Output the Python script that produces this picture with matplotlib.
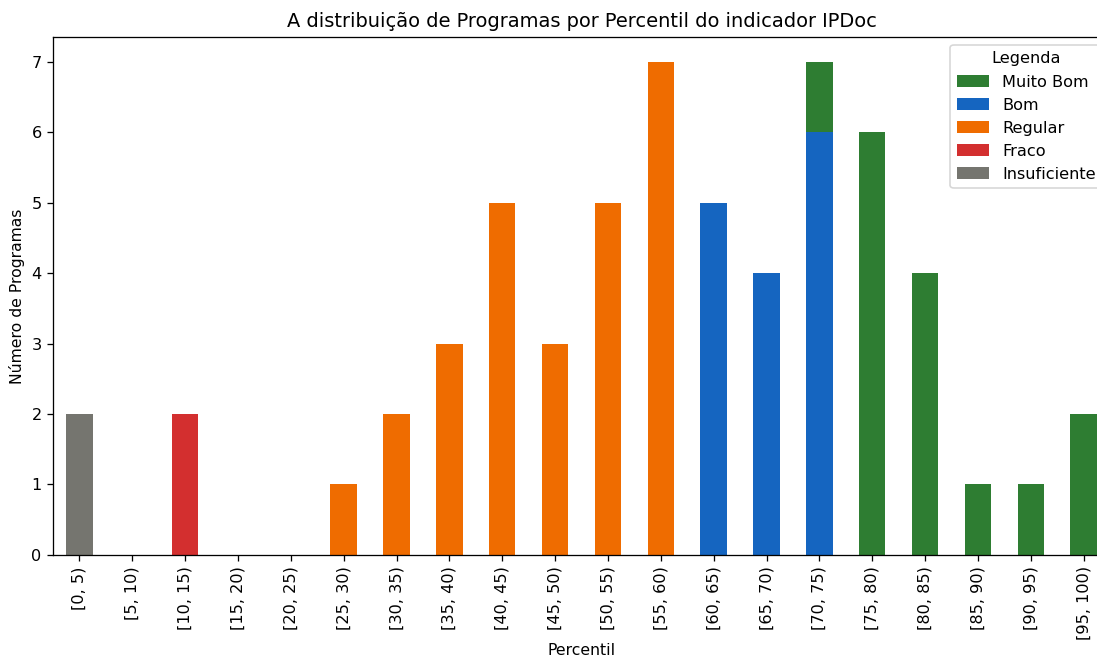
import numpy as np
import matplotlib
matplotlib.use('Agg')
import matplotlib.pyplot as plt

# Percentile bins
bins = ['[0, 5)', '[5, 10)', '[10, 15)', '[15, 20)', '[20, 25)', '[25, 30)',
        '[30, 35)', '[35, 40)', '[40, 45)', '[45, 50)', '[50, 55)', '[55, 60)',
        '[60, 65)', '[65, 70)', '[70, 75)', '[75, 80)', '[80, 85)', '[85, 90)',
        '[90, 95)', '[95, 100)']

# Counts per category (stacked bottom -> top)
insuficiente = [2, 0, 0, 0, 0, 0, 0, 0, 0, 0, 0, 0, 0, 0, 0, 0, 0, 0, 0, 0]
fraco = [0, 0, 2, 0, 0, 0, 0, 0, 0, 0, 0, 0, 0, 0, 0, 0, 0, 0, 0, 0]
regular = [0, 0, 0, 0, 0, 1, 2, 3, 5, 3, 5, 7, 0, 0, 0, 0, 0, 0, 0, 0]
bom = [0, 0, 0, 0, 0, 0, 0, 0, 0, 0, 0, 0, 5, 4, 6, 0, 0, 0, 0, 0]
muito_bom = [0, 0, 0, 0, 0, 0, 0, 0, 0, 0, 0, 0, 0, 0, 1, 6, 4, 1, 1, 2]

series = [
    ('Insuficiente', insuficiente, '#75756f'),
    ('Fraco', fraco, '#d32f2f'),
    ('Regular', regular, '#ef6c00'),
    ('Bom', bom, '#1565c0'),
    ('Muito Bom', muito_bom, '#2e7d32'),
]

# render at a larger dpi so text/lines are scaled like the reference
dpi = 116
fig = plt.figure(figsize=(1097 / dpi, 657 / dpi), dpi=dpi)
ax = fig.add_axes([0.0483, 0.1553, 0.9636, 0.7884])

x = np.arange(len(bins))
bottom = np.zeros(len(bins))
for name, vals, color in series:
    ax.bar(x, vals, width=0.5, bottom=bottom, color=color, label=name)
    bottom += np.array(vals)

ax.set_xlim(-0.5, len(bins) - 0.5)
ax.set_ylim(0, bottom.max() * 1.05)
ax.set_xticks(x)
ax.set_xticklabels(bins, rotation=90)

ax.set_title('A distribuição de Programas por Percentil do indicador IPDoc')
ax.set_xlabel('Percentil', fontsize=9.7, labelpad=1.5)
ax.set_ylabel('Número de Programas', fontsize=9.7)

handles, labels = ax.get_legend_handles_labels()
ax.legend(handles[::-1], labels[::-1], title='Legenda', loc='upper right')

plt.savefig('out.png', dpi=dpi)
